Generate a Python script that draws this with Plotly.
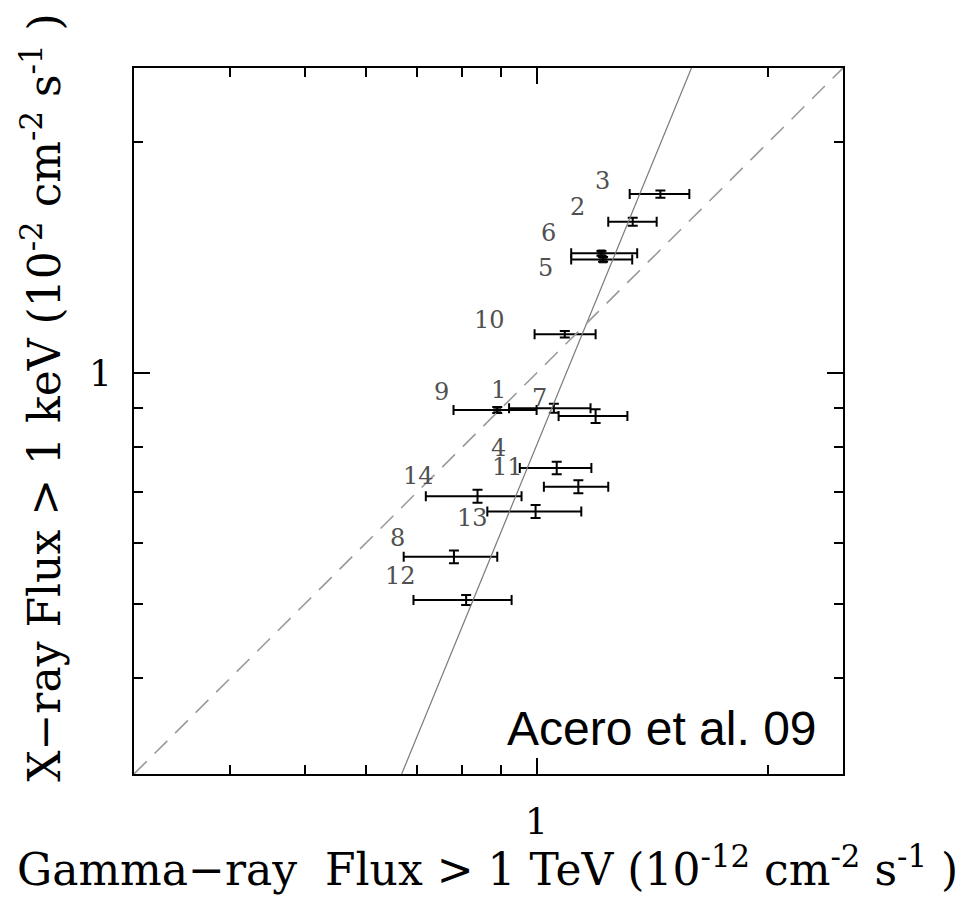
import numpy as np
import plotly.graph_objects as go

# ---- data ----
source_ids = ["1", "2", "3", "4", "5", "6", "7", "8", "9", "10", "11", "12", "13", "14"]
gamma_flux = [1.053, 1.333, 1.448, 1.062, 1.220, 1.214, 1.193, 0.781, 0.889, 1.088, 1.133, 0.810, 0.997, 0.838]
gamma_lo = [0.921, 1.239, 1.321, 0.951, 1.109, 1.109, 1.068, 0.672, 0.780, 0.994, 1.022, 0.692, 0.863, 0.718]
gamma_hi = [1.175, 1.432, 1.579, 1.178, 1.331, 1.351, 1.312, 0.889, 1.000, 1.193, 1.239, 0.928, 1.143, 0.956]
xray_flux = [0.900, 1.576, 1.712, 0.752, 1.407, 1.433, 0.879, 0.576, 0.895, 1.124, 0.711, 0.506, 0.660, 0.691]
xray_err = [0.012, 0.019, 0.019, 0.014, 0.010, 0.010, 0.018, 0.011, 0.008, 0.011, 0.014, 0.0076, 0.013, 0.0134]
square_marker = [False, False, False, False, True, True, False, False, True, False, False, False, False, False]

# fit line (solid) and equality line (dashed), endpoints
fit_x = [0.668, 1.589]
fit_y = [0.3, 2.5]
equal_x = [0.3, 2.5]
equal_y = [0.3, 2.5]

axis_range = [0.3, 2.5]
tick_values = [0.4, 0.5, 0.6, 0.7, 0.8, 0.9, 1, 2]
major_ticks = [1]
major_labels = ["1"]

# label offsets (pixels) relative to left end of each bar
label_dx = [-11, -31, -27, -21, -26, -23, -19, -6, -12, -45, -36, -13, -15, -7]
label_dy = [-18, -15, -13, -20, 9, -20, -18, -19, -18, -14, -20, -24, 7, -20]

gx = np.array(gamma_flux)
err_plus = (np.array(gamma_hi) - gx).tolist()
err_minus = (gx - np.array(gamma_lo)).tolist()

fig = go.Figure()

fig.add_trace(go.Scatter(
    x=gamma_flux, y=xray_flux, mode="markers",
    marker=dict(symbol="square", color="black",
                size=[8 if s else 0 for s in square_marker], line=dict(width=0)),
    error_x=dict(type="data", symmetric=False, array=err_plus, arrayminus=err_minus,
                 color="black", thickness=2, width=5),
    error_y=dict(type="data", array=xray_err, color="black", thickness=2, width=5),
    showlegend=False))
fig.add_trace(go.Scatter(
    x=equal_x, y=equal_y, mode="lines", xaxis="x3", yaxis="y3",
    line=dict(color="#9a9a9a", width=1.6, dash="18px,11px"),
    showlegend=False, hoverinfo="skip"))
fig.add_trace(go.Scatter(
    x=fit_x, y=fit_y, mode="lines", xaxis="x2", yaxis="y2",
    line=dict(color="#7a7a7a", width=1.2),
    showlegend=False, hoverinfo="skip"))

annotations = []
for i, sid in enumerate(source_ids):
    annotations.append(dict(
        x=np.log10(gamma_lo[i]), y=np.log10(xray_flux[i]), xref="x", yref="y",
        text=sid, showarrow=False, xanchor="center", yanchor="middle",
        xshift=label_dx[i], yshift=-label_dy[i],
        font=dict(family="DejaVu Serif", size=24, color="#505050")))

# tick labels at the major ticks
for v, t in zip(major_ticks, major_labels):
    annotations.append(dict(
        x=np.log10(v), y=0, xref="x", yref="paper", text=t, showarrow=False,
        xanchor="center", yanchor="middle", yshift=-47,
        font=dict(family="DejaVu Serif", size=36, color="black")))
    annotations.append(dict(
        x=0, y=np.log10(v), xref="paper", yref="y", text=t, showarrow=False,
        xanchor="right", yanchor="middle", xshift=-20,
        font=dict(family="DejaVu Serif", size=36, color="black")))

annotations.append(dict(
    x=0.966, y=0.064, xref="paper", yref="paper", text="Acero et al. 09",
    showarrow=False, xanchor="right", yanchor="middle",
    font=dict(family="Liberation Sans, Arial", size=48, color="black")))

annotations.append(dict(
    x=0.499, y=-0.131, xref="paper", yref="paper",
    text="Gamma−ray  Flux > 1 TeV (10<sup>-12</sup> cm<sup>-2</sup> s<sup>-1</sup> )",
    showarrow=False, xanchor="center", yanchor="middle",
    font=dict(family="DejaVu Serif", size=44, color="black")))

annotations.append(dict(
    x=-0.13, y=0.534, xref="paper", yref="paper", textangle=-90,
    text="X−ray Flux > 1 keV (10<sup>-2</sup> cm<sup>-2</sup> s<sup>-1</sup> )",
    showarrow=False, xanchor="center", yanchor="middle",
    font=dict(family="DejaVu Serif", size=44, color="black")))

log_range = [np.log10(axis_range[0]), np.log10(axis_range[1])]
base = dict(type="log", range=log_range, showgrid=False, zeroline=False,
            ticks="inside", tickcolor="black", tickwidth=2, showticklabels=False)

fig.update_layout(
    width=979, height=900,
    margin=dict(l=134, r=136, t=68, b=126),
    paper_bgcolor="white", plot_bgcolor="white",
    xaxis=dict(**base, side="bottom", showline=True, linecolor="black", linewidth=2,
               mirror=True, tickvals=tick_values, ticklen=9),
    yaxis=dict(**base, side="left", showline=True, linecolor="black", linewidth=2,
               mirror=True, tickvals=tick_values, ticklen=9),
    xaxis2=dict(**base, overlaying="x", anchor="y2", side="bottom",
                tickvals=major_ticks, ticklen=16, mirror="ticks"),
    yaxis2=dict(**base, overlaying="y", anchor="x2", side="left",
                tickvals=major_ticks, ticklen=16, mirror="ticks"),
    xaxis3=dict(**base, overlaying="x", anchor="y3", side="top",
                tickvals=tick_values, ticklen=9),
    yaxis3=dict(**base, overlaying="y", anchor="x3", side="right",
                tickvals=tick_values, ticklen=9),
    annotations=annotations,
)

fig.write_html("out.html")
